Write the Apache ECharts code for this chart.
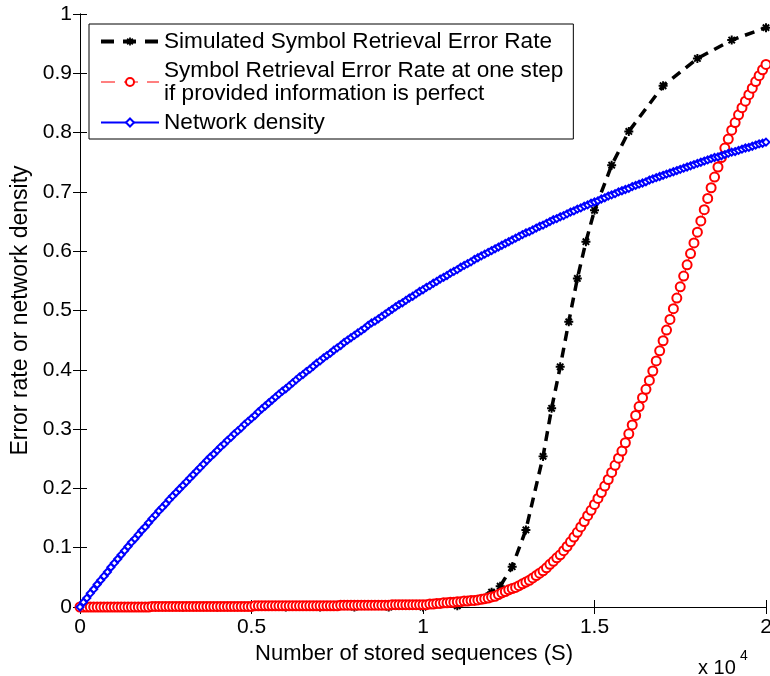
<!DOCTYPE html>
<html>
<head>
<meta charset="utf-8">
<script src="https://cdn.jsdelivr.net/npm/echarts@6/dist/echarts.min.js"></script>
<style>
html,body{margin:0;padding:0;background:#fff;}
#chart{width:770px;height:676px;}
</style>
</head>
<body>
<div id="chart"></div>
<script>
// ---------- DATA ----------
const seriesNames = [
  'Simulated Symbol Retrieval Error Rate',
  'Symbol Retrieval Error Rate at one step\nif provided information is perfect',
  'Network density'
];
const xTickLabels = ['0', '0.5', '1', '1.5', '2'];
const xTickValues = [0, 5000, 10000, 15000, 20000];

// simulated points (black)
const simX = [0,1000,2000,3000,4000,5000,6000,7000,8000,9000,10000,11000,12000,12250,12600,13000,13500,13750,14000,14250,14500,14750,15000,15500,16000,17000,18000,19000,20000];
const simY = [0,0,0,0,0,0,0,0,0,0,0,0.002,0.025,0.035,0.068,0.130,0.254,0.335,0.405,0.481,0.554,0.616,0.669,0.745,0.802,0.879,0.925,0.956,0.977];

// theoretical error rate (red), sampled every 100 sequences from 0 to 20000
const theoryY = [
  0,0,0,0,0,0,0,0,0,0,
  0,0,0,0,0,0,0,0,0,0,
  0,0.001,0.001,0.001,0.001,0.001,0.001,0.001,0.001,0.001,
  0.001,0.001,0.001,0.001,0.001,0.001,0.001,0.001,0.001,0.001,
  0.001,0.001,0.001,0.001,0.001,0.001,0.001,0.001,0.001,0.001,
  0.001,0.002,0.002,0.002,0.002,0.002,0.002,0.002,0.002,0.002,
  0.002,0.002,0.002,0.002,0.002,0.002,0.002,0.002,0.002,0.002,
  0.002,0.002,0.002,0.002,0.002,0.002,0.003,0.003,0.003,0.003,
  0.003,0.003,0.003,0.003,0.003,0.003,0.003,0.003,0.003,0.003,
  0.003,0.004,0.004,0.004,0.004,0.004,0.004,0.004,0.004,0.004,
  0.004,0.004,0.005,0.005,0.006,0.006,0.007,0.007,0.008,0.008,
  0.009,0.009,0.010,0.010,0.011,0.011,0.012,0.013,0.014,0.015,
  0.017,0.018,0.021,0.024,0.026,0.029,0.031,0.033,0.036,0.039,
  0.042,0.045,0.049,0.053,0.057,0.061,0.066,0.072,0.077,0.083,
  0.088,0.095,0.102,0.110,0.118,0.126,0.135,0.144,0.154,0.163,
  0.173,0.183,0.193,0.204,0.215,0.227,0.239,0.251,0.263,0.277,
  0.292,0.307,0.323,0.338,0.353,0.367,0.382,0.398,0.415,0.432,
  0.449,0.467,0.485,0.503,0.521,0.540,0.558,0.577,0.596,0.614,
  0.632,0.651,0.670,0.689,0.707,0.725,0.742,0.758,0.774,0.789,
  0.804,0.817,0.830,0.842,0.853,0.864,0.875,0.886,0.896,0.906,
  0.915
];

// network density (blue), sampled every 100 sequences from 0 to 20000
const densityY = [
  0,0.008,0.015,0.023,0.030,0.038,0.045,0.052,0.059,0.067,
  0.074,0.081,0.088,0.095,0.102,0.109,0.115,0.122,0.129,0.135,
  0.142,0.149,0.155,0.162,0.168,0.174,0.181,0.187,0.193,0.199,
  0.205,0.211,0.217,0.223,0.229,0.235,0.241,0.247,0.253,0.258,
  0.264,0.270,0.275,0.281,0.286,0.292,0.297,0.302,0.308,0.313,
  0.318,0.323,0.329,0.334,0.339,0.344,0.349,0.354,0.359,0.364,
  0.368,0.373,0.378,0.383,0.388,0.392,0.397,0.401,0.406,0.411,
  0.415,0.420,0.424,0.428,0.433,0.437,0.441,0.446,0.450,0.454,
  0.458,0.462,0.466,0.470,0.475,0.479,0.482,0.486,0.490,0.494,
  0.498,0.502,0.506,0.510,0.513,0.517,0.521,0.524,0.528,0.532,
  0.535,0.539,0.542,0.546,0.549,0.553,0.556,0.559,0.563,0.566,
  0.569,0.573,0.576,0.579,0.582,0.586,0.589,0.592,0.595,0.598,
  0.601,0.604,0.607,0.610,0.613,0.616,0.619,0.622,0.625,0.628,
  0.631,0.633,0.636,0.639,0.642,0.644,0.647,0.650,0.653,0.655,
  0.658,0.660,0.663,0.666,0.668,0.671,0.673,0.676,0.678,0.681,
  0.683,0.685,0.688,0.690,0.693,0.695,0.697,0.700,0.702,0.704,
  0.706,0.709,0.711,0.713,0.715,0.717,0.720,0.722,0.724,0.726,
  0.728,0.730,0.732,0.734,0.736,0.738,0.740,0.742,0.744,0.746,
  0.748,0.750,0.752,0.754,0.756,0.758,0.759,0.761,0.763,0.765,
  0.767,0.768,0.770,0.772,0.774,0.775,0.777,0.779,0.781,0.782,
  0.784
];
const sampleStep = 100;

// ---------- CHART ----------
const FONT = '"Liberation Sans", Arial, Helvetica, sans-serif';
const sampleX = theoryY.map((_, i) => i * sampleStep);
const pair = (xs, ys) => xs.map((x, i) => [x, ys[i]]);

const asterisk = 'path://M-1,-0.22L1,-0.22L1,0.22L-1,0.22Z' +
  'M0.22,-1L0.22,1L-0.22,1L-0.22,-1Z' +
  'M-0.551,-0.863L0.863,0.551L0.551,0.863L-0.863,-0.551Z' +
  'M-0.863,0.551L0.551,-0.863L0.863,-0.551L-0.551,0.863Z';

const chart = echarts.init(document.getElementById('chart'), null, {renderer: 'canvas'});

const tickStyle = {show: true, inside: true, length: 7, lineStyle: {color: '#000', width: 1}};
const lineStyleAxis = {show: true, lineStyle: {color: '#000', width: 1}};

chart.setOption({
  animation: false,
  backgroundColor: '#fff',
  grid: {left: 80, right: 4, top: 14, bottom: 69, containLabel: false, outerBoundsMode: 'none'},
  legend: {
    orient: 'vertical',
    left: 89, top: 24,
    padding: [6, 10, 5, 10],
    itemGap: 6,
    itemWidth: 58,
    itemHeight: 10,
    borderColor: '#000', borderWidth: 1,
    backgroundColor: '#fff',
    selectedMode: false,
    data: [
      {name: seriesNames[0], lineStyle: {width: 4, type: [13, 9]}},
      {name: seriesNames[1], lineStyle: {width: 1, type: [14, 9]}},
      {name: seriesNames[2]}
    ],
    textStyle: {fontFamily: FONT, fontSize: 22.6, color: '#000', lineHeight: 23}
  },
  xAxis: [{
    type: 'value', min: 0, max: 20000, interval: 5000,
    name: 'Number of stored sequences (S)', nameLocation: 'middle', nameGap: 34,
    nameTextStyle: {fontFamily: FONT, fontSize: 22, color: '#000', padding: [0, 18, 0, 0]},
    axisLine: lineStyleAxis, axisTick: tickStyle, splitLine: {show: false},
    axisLabel: {fontFamily: FONT, fontSize: 21, color: '#000', margin: 10,
      formatter: v => { const k = xTickValues.indexOf(v); return k >= 0 ? xTickLabels[k] : ''; }}
  }, {
    type: 'value', min: 0, max: 20000, interval: 5000, position: 'top',
    axisLine: lineStyleAxis, axisTick: tickStyle, axisLabel: {show: false}, splitLine: {show: false}
  }],
  yAxis: [{
    type: 'value', min: 0, max: 1, interval: 0.1,
    name: 'Error rate or network density', nameLocation: 'middle', nameGap: 46,
    nameTextStyle: {fontFamily: FONT, fontSize: 23, color: '#000'},
    axisLine: lineStyleAxis, axisTick: tickStyle, splitLine: {show: false},
    axisLabel: {fontFamily: FONT, fontSize: 21, color: '#000', margin: 8}
  }, {
    type: 'value', min: 0, max: 1, interval: 0.1, position: 'right',
    axisLine: lineStyleAxis, axisTick: tickStyle, axisLabel: {show: false}, splitLine: {show: false}
  }],
  series: [{
    name: seriesNames[0], type: 'line',
    data: pair(simX, simY),
    symbol: asterisk, symbolSize: 9, showAllSymbol: true,
    lineStyle: {color: '#000', width: 3.5, type: [10, 7]},
    itemStyle: {color: '#000', borderWidth: 0}
  }, {
    name: seriesNames[1], type: 'line',
    data: pair(sampleX, theoryY),
    symbol: 'emptyCircle', symbolSize: 9, showAllSymbol: true,
    lineStyle: {color: '#ff0000', width: 1, type: [7, 5]},
    itemStyle: {color: '#ff0000', borderColor: '#ff0000', borderWidth: 1}
  }, {
    name: seriesNames[2], type: 'line',
    data: pair(sampleX, densityY),
    symbol: 'emptyDiamond', symbolSize: 7, showAllSymbol: true,
    lineStyle: {color: '#0000ff', width: 1},
    itemStyle: {color: '#0000ff', borderColor: '#0000ff', borderWidth: 1}
  }],
  graphic: [{
    type: 'text', left: 698, top: 658,
    style: {text: 'x 10', font: '20px ' + FONT, fill: '#000'}
  }, {
    type: 'text', left: 740, top: 649,
    style: {text: '4', font: '14px ' + FONT, fill: '#000'}
  }]
});
</script>
</body>
</html>
